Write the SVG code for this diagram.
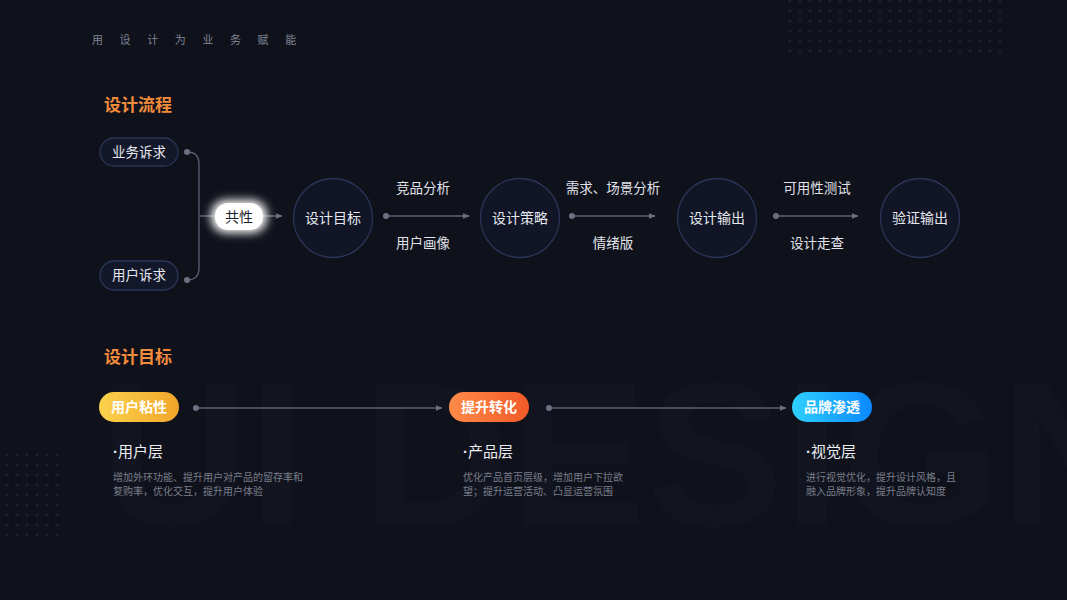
<svg xmlns="http://www.w3.org/2000/svg" width="1067" height="600" viewBox="0 0 1067 600">
<defs>
<style>
text{font-family:"Noto Sans CJK SC","Noto Sans",sans-serif;}
.top{font-size:11px;fill:#7f8494;letter-spacing:16.6px;}
.title{font-size:17px;font-weight:bold;fill:#f28c3c;}
.pill{fill:#121729;stroke:#2c3558;stroke-width:1.3;}
.ptxt{font-size:13.5px;fill:#e6e8ef;text-anchor:middle;}
.circ{fill:#111526;stroke:#2c3558;stroke-width:1.3;}
.ctxt{font-size:14px;fill:#e6e8ef;text-anchor:middle;}
.lab{font-size:13.5px;fill:#e1e3ea;text-anchor:middle;}
.ln{stroke:#5a6072;stroke-width:1.3;fill:none;}
.dot{fill:#6a7080;}
.gtxt{font-size:14px;font-weight:bold;fill:#ffffff;text-anchor:middle;}
.h{font-size:15px;fill:#eceef3;}
.md{font-family:"Liberation Sans",Arial,sans-serif;font-weight:bold;}
.d{font-size:10px;fill:#7a7f8c;}
</style>
<marker id="arr" viewBox="0 0 10 10" refX="9" refY="5" markerWidth="7" markerHeight="7" orient="auto" markerUnits="userSpaceOnUse"><path d="M0,1 L10,5 L0,9 Z" fill="#6a7080"/></marker>
<pattern id="dots" x="785" y="-4" width="10" height="10" patternUnits="userSpaceOnUse"><circle cx="5" cy="5" r="1.6" fill="#1c2030"/></pattern>
<pattern id="dots2" x="2" y="450" width="10" height="10" patternUnits="userSpaceOnUse"><circle cx="5" cy="5" r="1.6" fill="#1c2030"/></pattern>
<linearGradient id="gy" x1="0" y1="0" x2="1" y2="0"><stop offset="0" stop-color="#fbd24c"/><stop offset="1" stop-color="#f2a52a"/></linearGradient>
<linearGradient id="go" x1="0" y1="0" x2="1" y2="0"><stop offset="0" stop-color="#ff8b47"/><stop offset="1" stop-color="#f25a28"/></linearGradient>
<linearGradient id="gb" x1="0" y1="0" x2="1" y2="0"><stop offset="0" stop-color="#2fd0ff"/><stop offset="1" stop-color="#0a88ff"/></linearGradient>
<filter id="glow" x="-60%" y="-100%" width="220%" height="300%"><feGaussianBlur stdDeviation="5"/></filter>
</defs>
<rect width="1067" height="600" fill="#0f111b"/>
<rect x="785" y="0" width="220" height="56" fill="url(#dots)"/>
<rect x="2" y="450" width="60" height="90" fill="url(#dots2)"/>
<text x="100" y="525" style="font-family:'Liberation Sans',Arial,sans-serif;font-size:205px;font-weight:bold;fill:#12151f;">UI DESIGN</text>
<text class="top" x="92" y="44">用设计为业务赋能</text>
<text class="title" x="104" y="111">设计流程</text>
<text class="title" x="104" y="363">设计目标</text>

<g id="connectors">
<path class="ln" d="M187,152 Q199,152 199,164 L199,268 Q199,280 187,280"/>
<circle class="dot" cx="187" cy="152" r="3"/>
<circle class="dot" cx="187" cy="280" r="3"/>
<path class="ln" d="M199,216 L282,216" marker-end="url(#arr)"/>
<path class="ln" d="M386,216 L469,216" marker-end="url(#arr)"/>
<circle class="dot" cx="386" cy="216" r="3"/>
<path class="ln" d="M572,216 L655,216" marker-end="url(#arr)"/>
<circle class="dot" cx="572" cy="216" r="3"/>
<path class="ln" d="M776,216 L858,216" marker-end="url(#arr)"/>
<circle class="dot" cx="776" cy="216" r="3"/>
<path class="ln" d="M196,408 L442,408" stroke="#3e4454" stroke-width="2" marker-end="url(#arr)"/>
<circle class="dot" cx="196" cy="408" r="3"/>
<path class="ln" d="M549,408 L786,408" stroke="#3e4454" stroke-width="2" marker-end="url(#arr)"/>
<circle class="dot" cx="549" cy="408" r="3"/>
</g>

<g id="n-yewu"><rect class="pill" x="100" y="138" width="78" height="28" rx="14"/><text class="ptxt" x="139" y="157">业务诉求</text></g>
<g id="n-yonghu"><rect class="pill" x="100" y="261" width="78" height="29" rx="14.5"/><text class="ptxt" x="139" y="280">用户诉求</text></g>
<g id="n-gongxing">
<rect x="211" y="200" width="56" height="33" rx="15" fill="#ffffff" filter="url(#glow)"/>
<rect x="215" y="203" width="48" height="27" rx="13" fill="#ffffff"/>
<text x="239" y="222" style="font-size:14px;fill:#1b1e2a;text-anchor:middle;">共性</text>
</g>
<g id="n-mubiao"><circle class="circ" cx="333" cy="218" r="39.5"/><text class="ctxt" x="333" y="223">设计目标</text></g>
<g id="n-celue"><circle class="circ" cx="520" cy="218" r="39.5"/><text class="ctxt" x="520" y="223">设计策略</text></g>
<g id="n-shuchu"><circle class="circ" cx="717" cy="218" r="39.5"/><text class="ctxt" x="717" y="223">设计输出</text></g>
<g id="n-yanzheng"><circle class="circ" cx="920" cy="218" r="39.5"/><text class="ctxt" x="920" y="223">验证输出</text></g>

<g id="labels">
<text class="lab" x="423" y="193">竞品分析</text>
<text class="lab" x="423" y="248">用户画像</text>
<text class="lab" x="613" y="193">需求、场景分析</text>
<text class="lab" x="613" y="248">情绪版</text>
<text class="lab" x="817" y="193">可用性测试</text>
<text class="lab" x="817" y="248">设计走查</text>
</g>

<g id="g-nianxing"><rect x="99" y="392" width="80" height="30" rx="15" fill="url(#gy)"/><text class="gtxt" x="139" y="412">用户粘性</text></g>
<g id="g-zhuanhua"><rect x="449" y="392" width="80" height="30" rx="15" fill="url(#go)"/><text class="gtxt" x="489" y="412">提升转化</text></g>
<g id="g-shentou"><rect x="792" y="392" width="80" height="30" rx="15" fill="url(#gb)"/><text class="gtxt" x="832" y="412">品牌渗透</text></g>

<g id="t-user"><text class="h" x="113" y="457"><tspan class="md">·</tspan>用户层</text>
<text class="d" x="113" y="481">增加外环功能、提升用户对产品的留存率和</text>
<text class="d" x="113" y="495">复购率，优化交互，提升用户体验</text></g>
<g id="t-product"><text class="h" x="463" y="457"><tspan class="md">·</tspan>产品层</text>
<text class="d" x="463" y="481">优化产品首页层级，增加用户下拉欲</text>
<text class="d" x="463" y="495">望；提升运营活动、凸显运营氛围</text></g>
<g id="t-visual"><text class="h" x="806" y="457"><tspan class="md">·</tspan>视觉层</text>
<text class="d" x="806" y="481">进行视觉优化，提升设计风格，且</text>
<text class="d" x="806" y="495">融入品牌形象，提升品牌认知度</text></g>
</svg>
